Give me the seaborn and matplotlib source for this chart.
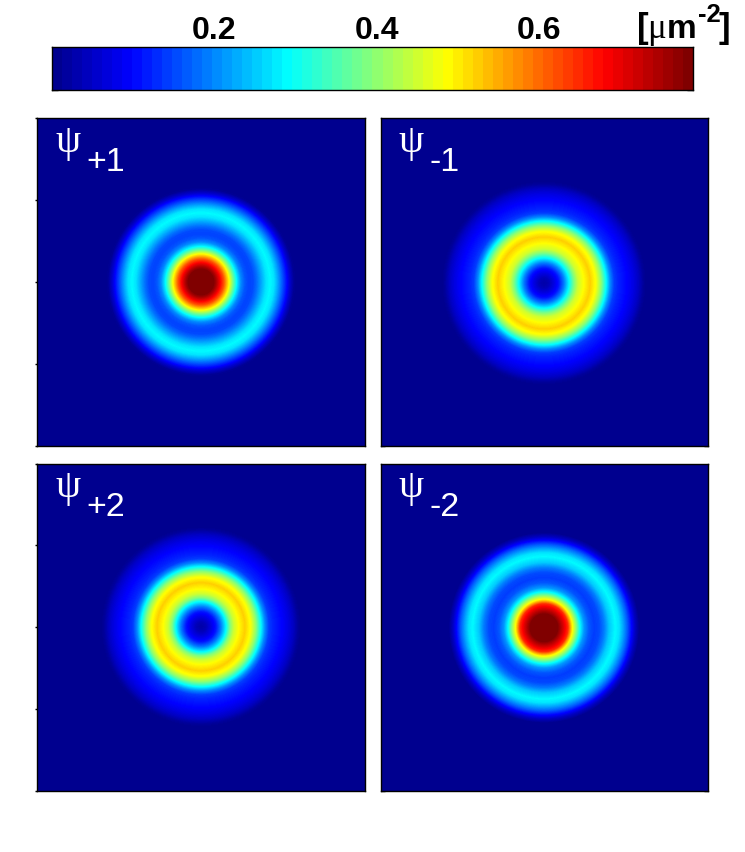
import numpy as np
import matplotlib
matplotlib.use("Agg")
import matplotlib.pyplot as plt
from matplotlib.colors import LinearSegmentedColormap
import seaborn as sns

sns.set_style("white")
plt.rcParams['font.family'] = ['Liberation Sans', 'DejaVu Sans']
plt.rcParams['text.color'] = 'black'
plt.rcParams['xtick.color'] = 'black'
plt.rcParams['ytick.color'] = 'black'
plt.rcParams['axes.labelcolor'] = 'black'

# Radial density profiles (radius in pixels from the ring centre)
radius_plus1 = [0, 8, 12, 15, 18, 23, 28, 32, 36, 40, 44, 48, 52, 56, 60, 65, 69, 73, 77, 81, 85, 89, 93, 96, 240]
plus1_values = [.88, .84, .80, .76, .71, .62, .49, .38, .28, .20, .16, .145, .15, .18, .22, .27, .288, .27, .22, .165, .11, .05, .005, 0, 0]
radius_minus2 = [0, 8, 13, 16, 19, 24, 28, 32, 36, 40, 45, 50, 55, 60, 65, 71, 75, 79, 83, 87, 91, 95, 240]
minus2_values = [.90, .85, .80, .76, .72, .65, .50, .40, .29, .21, .16, .14, .15, .19, .25, .288, .27, .22, .165, .10, .04, 0, 0]
radius_plus2 = [0, 5, 10, 15, 20, 25, 29, 33, 38, 44, 50, 55, 60, 64, 68, 72, 77, 82, 87, 92, 97, 100, 240]
plus2_values = [.02, .035, .07, .11, .19, .29, .39, .45, .49, .525, .48, .40, .29, .20, .14, .12, .105, .09, .07, .045, .01, 0, 0]
radius_minus1 = [0, 5, 10, 15, 20, 25, 30, 34, 40, 46, 52, 57, 62, 66, 70, 74, 79, 84, 89, 94, 99, 102, 240]
minus1_values = [.02, .035, .07, .11, .19, .29, .39, .45, .49, .525, .48, .40, .29, .20, .14, .12, .105, .09, .07, .045, .01, 0, 0]

panel_titles = ["+1", "-1", "+2", "-2"]
cbar_ticks = [0.2, 0.4, 0.6]
vmin, vmax = 0.0, 0.79
cbar_bands = 64

W, H = 745, 852
jet_stops = [(0, (0, 0, .5625)), (.125 - 1/128, (0, 0, 1)), (.375 - 1/128, (0, 1, 1)),
             (.625 - 1/128, (1, 1, 0)), (.875 - 1/128, (1, 0, 0)), (1, (.5, 0, 0))]
jet_smooth = LinearSegmentedColormap.from_list("jet_smooth", jet_stops, N=256)
jet_banded = LinearSegmentedColormap.from_list("jet_banded", jet_stops, N=cbar_bands)

def box(l, t, r, b):
    return [l / W, 1 - b / H, (r - l) / W, (b - t) / H]

def frame(ax):
    for s in ax.spines.values():
        s.set_visible(True)
        s.set_color("black")
        s.set_linewidth(1)

fig = plt.figure(figsize=(7.45, 8.52), dpi=100)

n = 328
panels = [
    ((37, 118, 365, 446), radius_plus1, plus1_values, (201, 282), panel_titles[0], True),
    ((380.5, 118, 707.5, 446), radius_minus1, minus1_values, (544, 283), panel_titles[1], False),
    ((37, 463.5, 365, 791), radius_plus2, plus2_values, (201, 627), panel_titles[2], True),
    ((380.5, 463.5, 707.5, 791), radius_minus2, minus2_values, (544, 628), panel_titles[3], False),
]

for (l, t, r, b), rad, vals, c, title, left in panels:
    ax = fig.add_axes(box(l, t, r, b))
    x = l + (np.arange(n) + .5) * (r - l) / n - c[0]
    y = t + (np.arange(n) + .5) * (b - t) / n - c[1]
    grid = np.interp(np.hypot(*np.meshgrid(x, y)), rad, vals)
    sns.heatmap(grid, ax=ax, cmap=jet_smooth, vmin=vmin, vmax=vmax, cbar=False,
                xticklabels=False, yticklabels=False)
    frame(ax)
    ax.set_xticks([])
    ax.set_yticks(np.array([0, .25, .5, .75, 1]) * n if left else [])
    ax.set_yticklabels([])
    ax.set_yticks([n], minor=True)
    ax.tick_params(axis="y", which="major", length=1.5, width=1, left=left, direction="out")
    ax.tick_params(axis="y", which="minor", length=3, width=1, left=True, right=True, direction="in")
    fig.text((l + 18) / W, 1 - (t + 34) / H, "ψ", color="white", fontsize=29,
             family=["Liberation Serif", "DejaVu Serif"], va="baseline", ha="left")
    fig.text((l + 49) / W, 1 - (t + 53) / H, title, color="white", fontsize=24.5, va="baseline", ha="left")

# Colour bar: one row of bands along the value scale
cax = fig.add_axes(box(52, 47, 693, 89.5))
band_values = np.linspace(vmin, vmax, cbar_bands)[None, :]
sns.heatmap(band_values, ax=cax, cmap=jet_banded, vmin=vmin, vmax=vmax, cbar=False,
            xticklabels=False, yticklabels=False)
frame(cax)
cax.set_xticks([(v - vmin) / (vmax - vmin) * cbar_bands for v in cbar_ticks])
cax.set_xticklabels([f"{v:.1f}" for v in cbar_ticks], fontsize=23, fontweight="bold")
cax.set_yticks([1])
cax.set_yticklabels([])
cax.xaxis.set_ticks_position("both")
cax.tick_params(axis="x", direction="in", length=4.3, width=1, labeltop=True, labelbottom=False, pad=0.5)
cax.tick_params(axis="y", direction="in", length=4, width=1, left=True, right=True)

fig.text(637 / W, 1 - 38 / H, "[", fontsize=25, fontweight="bold", va="baseline", ha="left")
fig.text(647 / W, 1 - 38 / H, "μ", fontsize=25, family=["Liberation Serif", "DejaVu Serif"], va="baseline", ha="left")
fig.text(667 / W, 1 - 38 / H, "m", fontsize=24, fontweight="bold", va="baseline", ha="left")
fig.text(698 / W, 1 - 22 / H, "-2", fontsize=18.5, fontweight="bold", va="baseline", ha="left")
fig.text(719 / W, 1 - 38 / H, "]", fontsize=25, fontweight="bold", va="baseline", ha="left")

fig.savefig("out.png", dpi=100)
